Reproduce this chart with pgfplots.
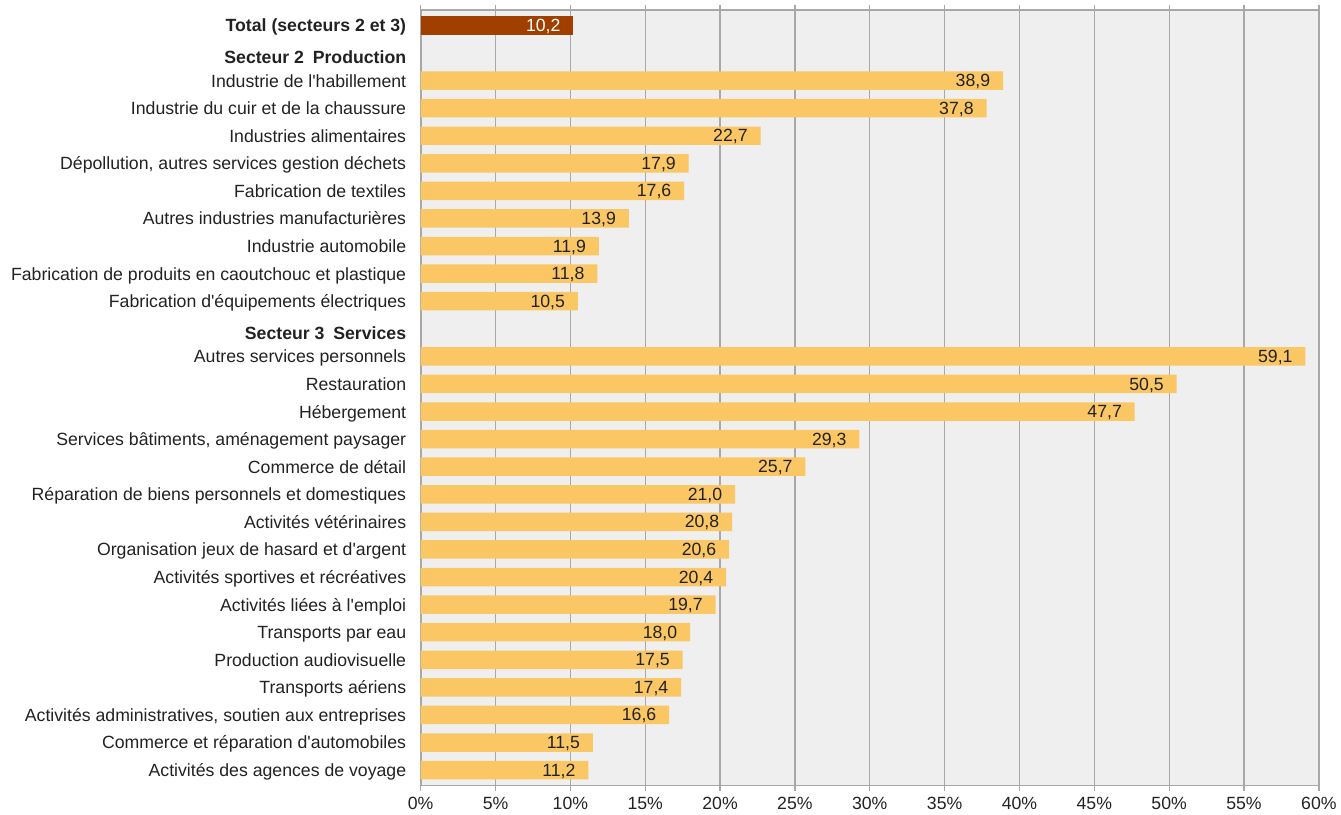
\documentclass[border=0pt]{standalone}
\usepackage{fontspec}
\setmainfont{Liberation Sans}
\usepackage{pgfplots}
\pgfplotsset{compat=1.18}
\definecolor{barc}{HTML}{FBC765}
\definecolor{totc}{HTML}{A03F00}
\definecolor{bgc}{HTML}{EFEFEF}
\definecolor{gridc}{HTML}{A8A8A8}
\definecolor{txt}{HTML}{222222}
\newcommand{\hd}[1]{\raisebox{-3pt}{\textbf{#1}}}
\newcommand{\fs}{\fontsize{13.3pt}{15pt}\selectfont}
\begin{document}
\begin{tikzpicture}
\begin{axis}[
  scale only axis, width=675.75pt, height=583.5pt,
  xmin=0, xmax=60, ymin=-0.56, ymax=27.56, y dir=reverse,
  axis background/.style={fill=bgc},
  axis line style={gridc, line width=1.3pt},
  xtick={0,5,...,60},
  xmajorgrids, grid style={gridc, line width=1pt},
  xtick align=outside, ytick align=inside, major tick length=4pt,
  xtick style={gridc, line width=1pt},
  ytick={0,...,27}, ytick style={draw=none},
  /pgf/number format/assume math mode=true,
  xticklabel={\pgfmathprintnumber{\tick}\%},
  xticklabel style={font=\fs, text=txt, yshift=-1pt},
  yticklabel style={font=\fs, text=txt, inner sep=0pt, xshift=-6.75pt, yshift=-1.5pt, text height=9.5pt, text depth=2.8pt},
  yticklabels={
    \textbf{Total (secteurs 2 et 3)},
    \hd{Secteur 2\hspace{0.5em}Production},
    Industrie de l\textquotesingle habillement,
    Industrie du cuir et de la chaussure,
    Industries alimentaires,
    {Dépollution, autres services gestion déchets},
    Fabrication de textiles,
    Autres industries manufacturières,
    Industrie automobile,
    Fabrication de produits en caoutchouc et plastique,
    Fabrication d\textquotesingle équipements électriques,
    \hd{Secteur 3\hspace{0.5em}Services},
    Autres services personnels,
    Restauration,
    Hébergement,
    {Services bâtiments, aménagement paysager},
    Commerce de détail,
    Réparation de biens personnels et domestiques,
    Activités vétérinaires,
    Organisation jeux de hasard et d\textquotesingle argent,
    Activités sportives et récréatives,
    Activités liées à l\textquotesingle emploi,
    Transports par eau,
    Production audiovisuelle,
    Transports aériens,
    {Activités administratives, soutien aux entreprises},
    Commerce et réparation d\textquotesingle automobiles,
    Activités des agences de voyage
  },
  xbar, bar width=13.9pt, bar shift=0pt,
  point meta=x,
  nodes near coords={\pgfmathprintnumber[fixed, fixed zerofill, precision=1, use comma]{\pgfplotspointmeta}},
  every node near coord/.append style={anchor=east, inner sep=0pt, xshift=-9.5pt, yshift=-1.2pt, font=\fs, text height=9.5pt, text depth=2.8pt},
]
\addplot[draw=none, fill=totc, nodes near coords style={text=white}] coordinates {(10.2,0)};
\addplot[draw=none, fill=barc, nodes near coords style={text=txt}] coordinates {
(38.9,2) (37.8,3) (22.7,4) (17.9,5) (17.6,6) (13.9,7) (11.9,8) (11.8,9) (10.5,10)
(59.1,12) (50.5,13) (47.7,14) (29.3,15) (25.7,16) (21.0,17) (20.8,18) (20.6,19)
(20.4,20) (19.7,21) (18.0,22) (17.5,23) (17.4,24) (16.6,25) (11.5,26) (11.2,27)
};
\end{axis}
\path ([xshift=-316.5pt, yshift=-21.75pt]current axis.south west) rectangle ([xshift=13.5pt, yshift=7.5pt]current axis.north east);
\end{tikzpicture}
\end{document}
